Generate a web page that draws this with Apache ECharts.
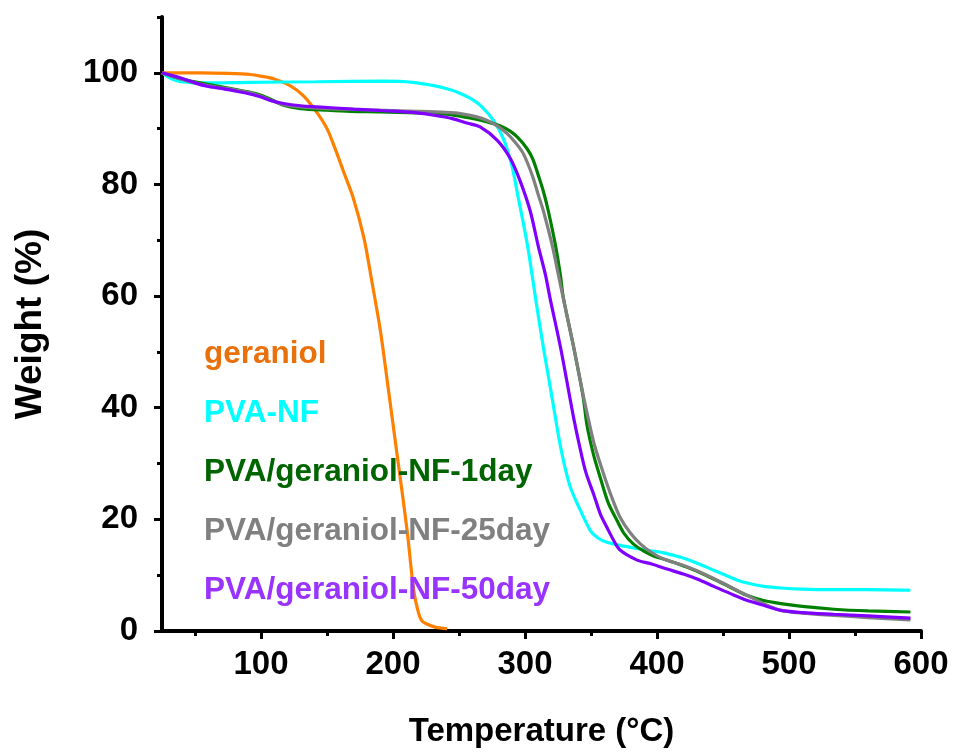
<!DOCTYPE html>
<html>
<head>
<meta charset="utf-8">
<script src="https://cdn.jsdelivr.net/npm/echarts@6/dist/echarts.min.js"></script>
<style>
html,body{margin:0;padding:0;background:#fff;}
#chart{width:955px;height:753px;}
</style>
</head>
<body>
<div id="chart"></div>
<script>
// ---- data (Temperature °C, Weight %) ----
const seriesNames = ['geraniol', 'PVA-NF', 'PVA/geraniol-NF-1day', 'PVA/geraniol-NF-25day', 'PVA/geraniol-NF-50day'];

const geraniolData = [[25,100],[40,100],[55,100],[75,99.9],[92,99.7],[100,99.4],[110,98.9],[122,97.7],[132,95.9],[142,93],[150,90],[156,86.5],[163,82],[170,77.5],[178,70.4],[184,62.6],[190.5,53.7],[197,42.4],[204,30],[210.7,18],[215.7,7.3],[219.5,3.1],[222,1.8],[226,1.2],[232,0.7],[241,0.4]];

const pvaNFData = [[25,100],[30,99.2],[36,98.6],[45,98.3],[54,98.2],[92,98.3],[142,98.4],[193,98.5],[215,98.3],[231,97.7],[243,97],[251,96.3],[258,95.5],[266,94.2],[276,91.5],[283.6,88.2],[290,83.4],[295,77.5],[300,71.5],[303,67.5],[308,59.6],[314,50.7],[320.5,41.8],[327,32.9],[334,26],[342,21.6],[349.5,18],[355,16.7],[362,15.9],[375,15.2],[392,14.5],[405,14],[418,13.2],[430,12.2],[443,10.9],[452,10],[461,9.1],[470,8.5],[481,8],[494,7.7],[510,7.5],[530,7.4],[560,7.4],[592,7.3]];

const day1Data = [[25,100],[35,99.2],[45,98.6],[54,98.2],[65,97.7],[79,97.1],[92,96.5],[100,96],[108,95.2],[117,94.2],[130,93.6],[150,93.3],[168,93.1],[190,93],[218,92.8],[240,92.6],[256,92],[270,91.3],[281,90.5],[289,89.5],[295,88.3],[301.6,86.4],[306,84.5],[310,81.7],[314,78.7],[317.7,75.2],[323,69.2],[326.8,63.8],[329,59.8],[337,50.7],[344,42],[347,36.8],[352,31.5],[357,27.5],[363,23],[369.7,19.8],[375,17.5],[382,15.6],[390,14.3],[397,13.5],[410,12.5],[423,11.4],[437,10],[450,8.5],[460,7.3],[468,6.4],[480,5.5],[494,4.9],[510,4.4],[534,3.9],[560,3.6],[592,3.4]];

const day25Data = [[25,100],[35,99.2],[45,98.5],[54,98],[65,97.5],[79,97],[92,96.4],[100,95.8],[108,95],[117,94.3],[130,93.9],[150,93.6],[190,93.3],[218,93.1],[240,92.9],[251,92.7],[262,92.2],[271,91.5],[279,90.5],[286.5,89.1],[292,87.7],[297.8,85.9],[302,83.8],[306.4,81],[310,78.2],[314,75.2],[320.5,69.2],[325.3,63.8],[329,59.6],[337,50.7],[344.5,41.8],[349.5,36.4],[353,33],[359.6,28.1],[366,23.8],[372,20.4],[380,17.5],[387.4,15.6],[395,14.2],[405,12.9],[418,11.9],[430.4,10.8],[443,9.4],[455.6,7.9],[468,6.4],[480.8,4.9],[494,3.7],[510,3.2],[534,2.8],[560,2.4],[592,2.0]];

const day50Data = [[25,100],[33,99.5],[41.5,98.9],[50,98.2],[59,97.6],[70,97.2],[79.3,96.8],[90,96.3],[99.5,95.7],[108,95],[117,94.5],[130,94.1],[142.5,93.9],[170,93.5],[193,93.2],[215,92.9],[231,92.4],[245,91.8],[256,91],[266,90.3],[279,87.9],[289,84.6],[296.5,80.5],[304,75.2],[310,69],[315.5,63.8],[319,59.6],[327,50.7],[334,41.8],[337,38],[341,33.5],[346,28.5],[352,24.5],[357,21],[362,18.6],[367,16.3],[372,14.5],[385,12.7],[396,12],[407.6,11.1],[420,10.2],[430.4,9.3],[443,8],[455.6,6.7],[468,5.5],[480.8,4.6],[494,3.7],[510,3.3],[534,3.0],[560,2.7],[592,2.3]];

const xMajorTicks = [100, 200, 300, 400, 500, 600];
const xMinorTicks = [50, 150, 250, 350, 450, 550];
const yMajorTicks = [0, 20, 40, 60, 80, 100];
const yMinorTicks = [10, 30, 50, 70, 90, 110];

const xTitle = 'Temperature (°C)';
const yTitle = 'Weight (%)';

// ---- styles ----
const lineColors = ['#FF8000', '#00FFFF', '#008000', '#808080', '#8000FF'];
const textColors = ['#E8710C', '#00FFFF', '#006400', '#808080', '#9933FF'];
const FONT = '"Liberation Sans", Arial, Helvetica, sans-serif';
const allData = [geraniolData, pvaNFData, day1Data, day25Data, day50Data];

const chart = echarts.init(document.getElementById('chart'), null, {renderer: 'canvas'});

const axisCommon = {
  type: 'value',
  splitLine: {show: false},
};

const option = {
  backgroundColor: '#ffffff',
  animation: false,
  grid: {left: 162, right: 34, top: 17, bottom: 119, containLabel: false},
  legend: {
    orient: 'vertical',
    left: 199,
    top: 338,
    padding: 0,
    icon: 'none',
    itemWidth: 0,
    itemHeight: 32,
    itemGap: 27,
    selectedMode: false,
    textStyle: {fontFamily: FONT, fontWeight: 'bold', fontSize: 31.5, lineHeight: 32, padding: [0,0,0,0]},
    data: seriesNames.map((n, i) => ({name: n, textStyle: {color: textColors[i]}}))
  },
  xAxis: [
    Object.assign({}, axisCommon, {
      min: 25, max: 600,
      name: xTitle,
      nameLocation: 'middle',
      nameGap: 84,
      nameTextStyle: {fontFamily: FONT, fontWeight: 'bold', fontSize: 33, color: '#000'},
      axisLine: {show: true, onZero: false, lineStyle: {color: '#000', width: 4}},
      axisTick: {show: true, inside: false, length: 8, lineStyle: {color: '#000', width: 3}, customValues: xMajorTicks},
      axisLabel: {show: true, customValues: xMajorTicks, margin: 17, fontFamily: FONT, fontWeight: 'bold', fontSize: 33, color: '#000'}
    }),
    Object.assign({}, axisCommon, {
      min: 25, max: 600,
      position: 'bottom',
      axisLine: {show: false},
      axisTick: {show: true, inside: false, length: 5, lineStyle: {color: '#000', width: 3}, customValues: xMinorTicks},
      axisLabel: {show: false}
    })
  ],
  yAxis: [
    Object.assign({}, axisCommon, {
      min: 0, max: 110,
      name: yTitle,
      nameLocation: 'middle',
      nameGap: 113,
      nameRotate: 90,
      nameTextStyle: {fontFamily: FONT, fontWeight: 'bold', fontSize: 37, color: '#000'},
      axisLine: {show: true, onZero: false, lineStyle: {color: '#000', width: 4}},
      axisTick: {show: true, inside: false, length: 8, lineStyle: {color: '#000', width: 3}, customValues: yMajorTicks},
      axisLabel: {show: true, customValues: yMajorTicks, margin: 24, fontFamily: FONT, fontWeight: 'bold', fontSize: 33, color: '#000'}
    }),
    Object.assign({}, axisCommon, {
      min: 0, max: 110,
      position: 'left',
      axisLine: {show: false},
      axisTick: {show: true, inside: false, length: 5, lineStyle: {color: '#000', width: 3}, customValues: yMinorTicks},
      axisLabel: {show: false}
    })
  ],
  series: seriesNames.map((n, i) => ({
    name: n,
    type: 'line',
    xAxisIndex: 0,
    yAxisIndex: 0,
    data: allData[i],
    showSymbol: false,
    symbol: 'none',
    smooth: 0.3,
    color: lineColors[i],
    lineStyle: {color: lineColors[i], width: 3.2},
    z: 2 + i
  }))
};

chart.setOption(option);
</script>
</body>
</html>
